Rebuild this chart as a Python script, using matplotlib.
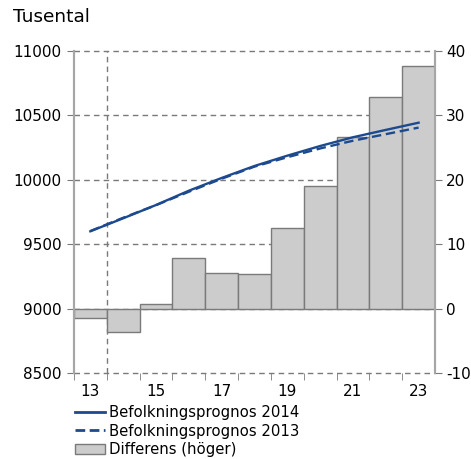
import matplotlib
matplotlib.use("Agg")
import matplotlib.pyplot as plt
from matplotlib.patches import Patch
from matplotlib.lines import Line2D

# data
years = [2013, 2014, 2015, 2016, 2017, 2018, 2019, 2020, 2021, 2022, 2023]
prognos_2014 = [9600, 9701, 9804, 9915, 10014, 10107, 10187, 10262, 10330, 10387, 10443]
prognos_2013 = [9602, 9705, 9803, 9907, 10008, 10102, 10175, 10243, 10303, 10354, 10405]
differens = [-1.5, -3.6, 0.7, 7.8, 5.5, 5.4, 12.5, 19.0, 26.7, 32.9, 37.7]
right_ticks = [-10, 0, 10, 20, 30, 40]
left_ticks = [8500, 9000, 9500, 10000, 10500, 11000]
label_years = [2013, 2015, 2017, 2019, 2021, 2023]

blue = "#1d4a8f"
gray = "#7a7a7a"
spine_gray = "#a6a6a6"
lw = 1.7
dash = (0, (4, 2))
plt.rcParams["font.family"] = ["DejaVu Sans"]
plt.rcParams["font.size"] = 11

fig = plt.figure(figsize=(4.71, 4.59), dpi=100)
ax_bar = fig.add_axes([0.157, 0.1874, 0.7666, 0.7016])
ax_line = ax_bar.twinx()

# bars (right axis) on the lower axes so the lines sit on top
ax_bar.bar(years, differens, width=1.0, color="#cccccc", edgecolor=gray,
           linewidth=1.0, zorder=3)
ax_bar.set_ylim(right_ticks[0], right_ticks[-1])
ax_bar.set_yticks(right_ticks)
ax_bar.set_yticklabels([str(t) for t in right_ticks])
ax_bar.yaxis.tick_right()
ax_bar.set_xlim(years[0] - 0.5, years[-1] + 0.5)
for t in right_ticks:
    ax_bar.axhline(t, linestyle=(0, (4, 3)), color=gray, linewidth=1.0, zorder=1,
                   clip_on=False)
ax_bar.axvline(2013.5, linestyle=(0, (4, 3)), color=gray, linewidth=1.0, zorder=1)

# x ticks: marks at bar boundaries, labels at every other year
ax_bar.set_xticks(label_years)
ax_bar.set_xticklabels([str(y)[2:] for y in label_years])
ax_bar.set_xticks([y + 0.5 for y in years[:-1]] + [years[0] - 0.5], minor=True)
ax_bar.tick_params(axis="x", which="major", length=0, pad=8)
ax_bar.tick_params(axis="x", which="minor", length=5, color=gray, direction="out")
ax_bar.tick_params(axis="y", length=5, color=gray, direction="out", pad=3)

ax_line.plot(years, prognos_2014, color=blue, linewidth=lw, zorder=3)
ax_line.plot(years, prognos_2013, color=blue, linewidth=lw, linestyle=dash, zorder=3)
ax_line.set_ylim(left_ticks[0], left_ticks[-1])
ax_line.set_yticks(left_ticks)
ax_line.yaxis.tick_left()
ax_line.tick_params(axis="y", length=5, color=gray, direction="out", pad=4)
ax_line.grid(False)

for a in (ax_bar, ax_line):
    a.spines["top"].set_visible(False)
    a.spines["bottom"].set_visible(False)
    a.spines["left"].set_color(spine_gray)
    a.spines["right"].set_color(spine_gray)
    a.spines["left"].set_linewidth(1.5)
    a.spines["right"].set_linewidth(1.5)

fig.text(0.028, 0.943, "Tusental", fontsize=13.3, va="bottom", ha="left")

handles = [
    Line2D([0], [0], color=blue, linewidth=2.0),
    Line2D([0], [0], color=blue, linewidth=2.0, linestyle=(0, (3.5, 1.6))),
    Patch(facecolor="#cccccc", edgecolor=gray),
]
labels = ["Befolkningsprognos 2014", "Befolkningsprognos 2013", "Differens (höger)"]
fig.legend(handles, labels, loc="upper left", bbox_to_anchor=(0.159, 0.118),
           frameon=False, handlelength=2.0, handletextpad=0.3, labelspacing=0.25,
           borderaxespad=0, borderpad=0, fontsize=10.7)

fig.savefig("out.png", dpi=100)
